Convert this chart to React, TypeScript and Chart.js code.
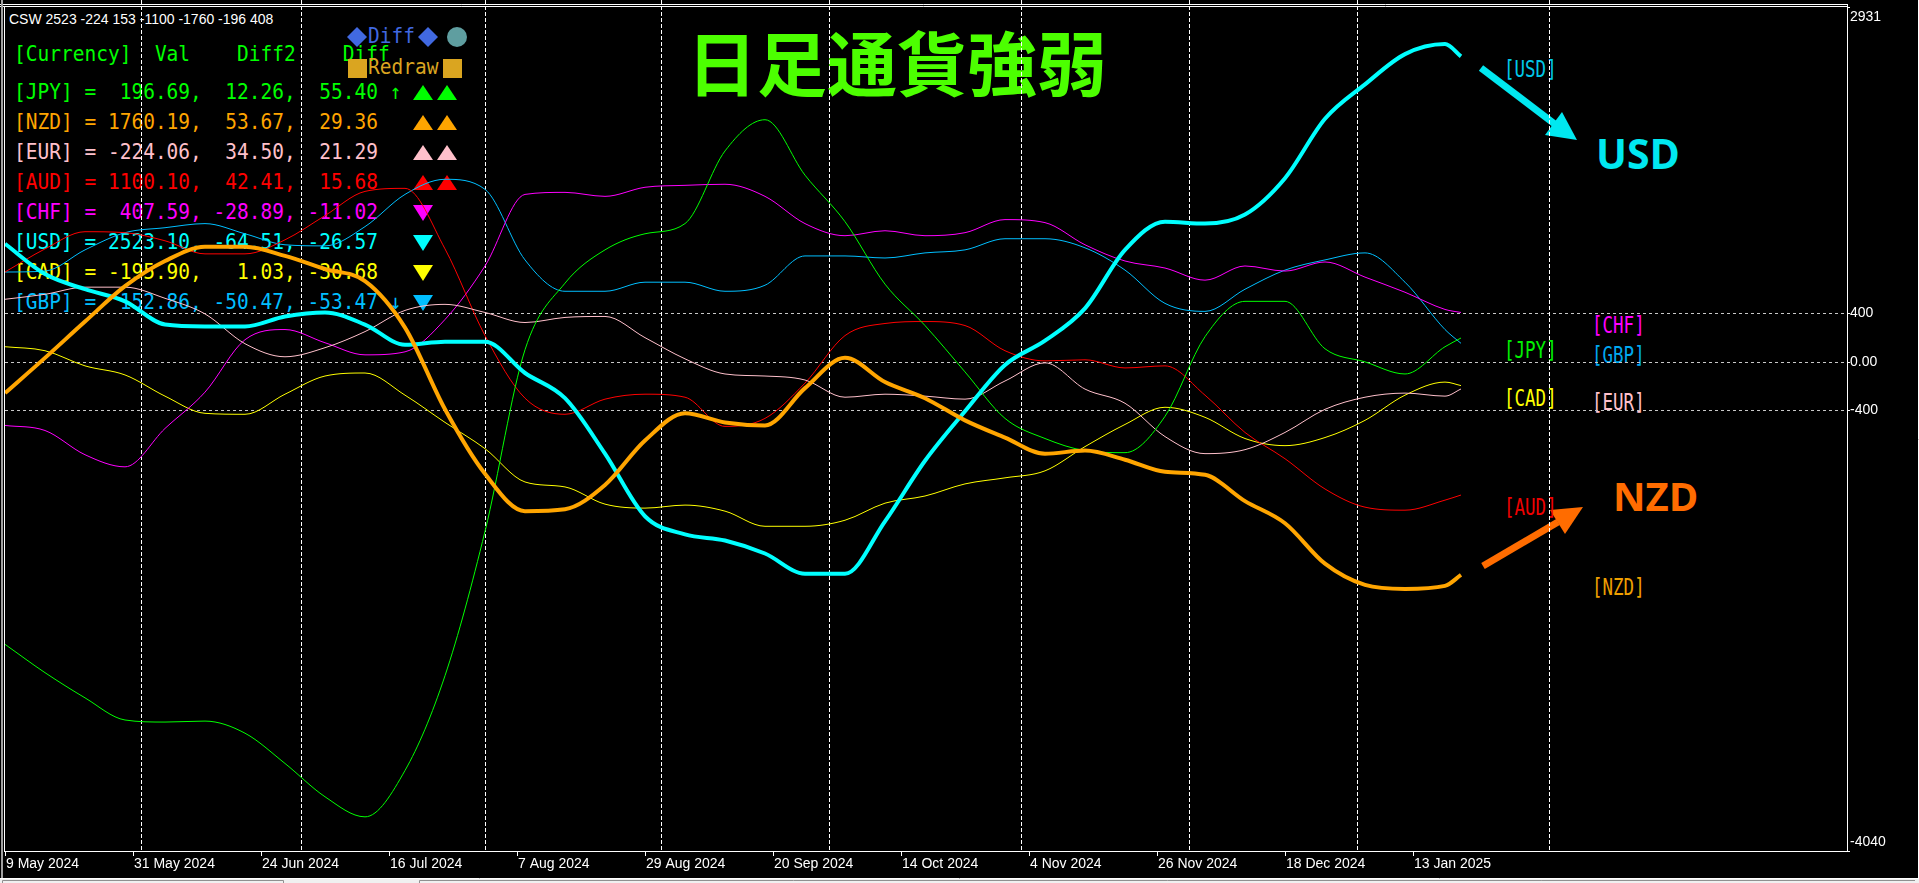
import React, { useEffect, useRef } from "react";
import { Chart, registerables } from "chart.js";
Chart.register(...registerables);

// ---- data ----
const barIdx = [0, 5, 10, 15, 20, 25, 30, 35, 40, 45, 50, 55, 60, 65, 70, 75, 80, 85, 90, 95, 100, 105, 110, 115, 120, 125, 130, 135, 140, 145, 150, 155, 160, 165, 170, 175, 180, 182];

const jpy = [-2333, -2567, -2775, -2958, -2975, -2967, -3067, -3317, -3592, -3758, -3375, -2592, -1400, 100, 650, 925, 1058, 1142, 1742, 2000, 1542, 1158, 642, 300, -83, -467, -633, -733, -750, -450, 208, 500, 500, 108, 0, -100, 125, 197];
const nzd = [-258, 33, 333, 625, 833, 950, 950, 875, 767, 667, 283, -392, -925, -1233, -1217, -1017, -650, -425, -500, -525, -217, 33, -167, -300, -483, -625, -758, -733, -808, -908, -933, -1150, -1333, -1667, -1842, -1875, -1850, -1760];
const eur = [517, 558, 617, 617, 525, 396, 150, 42, 117, 250, 425, 475, 408, 325, 367, 375, 200, 25, -100, -117, -150, -292, -267, -283, -308, -158, -8, -225, -342, -617, -758, -725, -583, -392, -292, -258, -283, -224];
const aud = [742, 933, 1075, 1067, 1000, 892, 892, 1008, 1208, 1408, 1433, 933, 217, -300, -433, -308, -267, -292, -533, -467, -175, 217, 317, 333, 300, 92, 8, 17, -50, -33, -275, -583, -800, -1050, -1200, -1225, -1142, -1100];
const chf = [-525, -567, -767, -867, -550, -250, 183, 267, 158, 58, 83, 350, 792, 1383, 1400, 1367, 1442, 1458, 1467, 1367, 1142, 1042, 1083, 1042, 1067, 1175, 1150, 967, 833, 775, 675, 792, 750, 825, 700, 575, 433, 408];
const usd = [975, 725, 600, 500, 308, 292, 292, 375, 408, 308, 142, 167, 167, -92, -300, -758, -1275, -1425, -1475, -1583, -1750, -1750, -1317, -817, -408, -25, 175, 442, 925, 1158, 1142, 1217, 1517, 2008, 2292, 2542, 2625, 2523];
const cad = [125, 92, -33, -108, -283, -425, -433, -267, -117, -92, -275, -500, -717, -992, -1033, -1175, -1208, -1183, -1233, -1358, -1358, -1308, -1167, -1108, -1008, -958, -900, -700, -517, -375, -458, -633, -692, -625, -483, -275, -167, -196];
const gbp = [742, 750, 925, 1067, 1108, 1142, 1058, 967, 958, 1117, 1383, 1508, 1425, 842, 583, 583, 658, 658, 583, 633, 875, 875, 858, 900, 925, 1017, 1017, 942, 758, 483, 417, 600, 758, 842, 900, 658, 267, 153];

const currencies = ["JPY", "NZD", "EUR", "AUD", "CHF", "USD", "CAD", "GBP"];
const seriesValues = [jpy, nzd, eur, aud, chf, usd, cad, gbp];
const lineColors = ["#00FF00", "#FFA500", "#FFC0CB", "#FF0000", "#FF00FF", "#00FFFF", "#FFFF00", "#00BFFF"];
const lineWidths = [1, 4, 1, 1, 1, 4, 1, 1];

const legendVal = ["196.69", "1760.19", "-224.06", "1100.10", "407.59", "2523.10", "-195.90", "152.86"];
const legendDiff2 = ["12.26", "53.67", "34.50", "42.41", "-28.89", "-64.51", "1.03", "-50.47"];
const legendDiff = ["55.40", "29.36", "21.29", "15.68", "-11.02", "-26.57", "-30.68", "-53.47"];
const legendArrow = ["↑", "", "", "", "", "", "", "↓"];
const legendTriangles = [2, 2, 2, 2, -1, -1, -1, -1];

const cswText = "CSW 2523 -224 153 -1100 -1760 -196 408";

const dateLabels = ["9 May 2024", "31 May 2024", "24 Jun 2024", "16 Jul 2024", "7 Aug 2024", "29 Aug 2024", "20 Sep 2024", "14 Oct 2024", "4 Nov 2024", "26 Nov 2024", "18 Dec 2024", "13 Jan 2025"];
const dateLabelBars = [0, 16, 32, 48, 64, 80, 96, 112, 128, 144, 160, 176];
const monthStartBars = [17, 37, 60, 82, 103, 127, 148, 169, 193];
const yGridValues = [400, 0, -400];
const yMin = -4040;
const yMax = 2931;
const xMax = 230.25;

const endLabelCurrencies = ["USD", "CHF", "JPY", "GBP", "CAD", "EUR", "AUD", "NZD"];
const endLabelColors = ["#00C8E8", "#FF00FF", "#00F000", "#00A8F0", "#FFFF00", "#FFC0CB", "#F00000", "#F0A000"];

const W = 1919;
const H = 883;

const monoFont = '"DejaVu Sans Mono", "Liberation Mono", monospace';

const framePlugin = {
  id: "frame",
  beforeDatasetsDraw(chart: any) {
    const { ctx, chartArea: a, scales } = chart;
    const x = scales.x;
    const y = scales.y;
    ctx.save();
    ctx.lineWidth = 1;
    ctx.strokeStyle = "#C8C8C8";
    ctx.setLineDash([3, 3]);
    yGridValues.forEach((v) => {
      const py = Math.round(y.getPixelForValue(v)) + 0.5;
      ctx.beginPath();
      ctx.moveTo(a.left, py);
      ctx.lineTo(a.right, py);
      ctx.stroke();
    });
    ctx.strokeStyle = "#FFFFFF";
    ctx.setLineDash([4, 2]);
    monthStartBars.forEach((b) => {
      const px = Math.round(x.getPixelForValue(b)) + 0.5;
      ctx.beginPath();
      ctx.moveTo(px, 0);
      ctx.lineTo(px, a.bottom);
      ctx.stroke();
    });
    ctx.restore();
  },
  afterDraw(chart: any) {
    const { ctx, chartArea: a, scales } = chart;
    const x = scales.x;
    const y = scales.y;
    ctx.save();
    ctx.setLineDash([]);
    ctx.lineWidth = 1;
    ctx.strokeStyle = "#FFFFFF";
    const line = (x1: number, y1: number, x2: number, y2: number) => {
      ctx.beginPath();
      ctx.moveTo(x1, y1);
      ctx.lineTo(x2, y2);
      ctx.stroke();
    };
    // frame
    line(0, 4.5, a.right + 0.5, 4.5);
    line(0, 6.5, a.right + 0.5, 6.5);
    line(a.right + 0.5, 4, a.right + 0.5, a.bottom + 1);
    line(4, a.bottom + 0.5, a.right + 1, a.bottom + 0.5);
    line(4.5, 6, 4.5, a.bottom + 1);
    ctx.strokeStyle = "#A0A0A0";
    ctx.lineWidth = 2;
    line(2, 0, 2, 878);
    ctx.lineWidth = 1;
    ctx.strokeStyle = "#FFFFFF";
    line(W - 0.5, 0, W - 0.5, 878.5);
    line(0, 878.5, W, 878.5);
    // bottom tab strip
    ctx.fillStyle = "#F0F0F0";
    ctx.fillRect(0, 879, W, 4);
    ctx.strokeStyle = "#909090";
    line(2.5, 880.5, 283.5, 880.5);
    line(2.5, 880.5, 2.5, 883);
    line(283.5, 880.5, 283.5, 883);
    line(419.5, 880.5, W - 4, 880.5);
    line(419.5, 880.5, 419.5, 883);
    // x ticks and labels
    ctx.strokeStyle = "#FFFFFF";
    ctx.fillStyle = "#FFFFFF";
    ctx.font = '14px "Liberation Sans", Arial, sans-serif';
    ctx.textBaseline = "middle";
    ctx.textAlign = "left";
    dateLabelBars.forEach((b, i) => {
      const px = Math.round(x.getPixelForValue(b)) + 0.5;
      line(px, a.bottom + 1, px, a.bottom + 5);
      ctx.fillText(dateLabels[i], px + 0.5, a.bottom + 13);
    });
    // y labels
    const yTickVals = [yMax, 400, 0, -400, yMin];
    yTickVals.forEach((v) => {
      let py = y.getPixelForValue(v);
      if (v === yMax) py += 10;
      if (v === yMin) py -= 9;
      const txt = v === 0 ? "0.00" : String(v);
      ctx.fillText(txt, a.right + 3, py);
      const gy = Math.round(y.getPixelForValue(v)) + 0.5;
      line(a.right + 1, gy, a.right + 3, gy);
    });
    ctx.restore();
  },
};

function pad(s: string, n: number) {
  return s.padStart(n, " ");
}

export default function App() {
  const canvasRef = useRef<HTMLCanvasElement | null>(null);

  useEffect(() => {
    document.body.style.margin = "0";
    document.body.style.background = "#000";
    const canvas = canvasRef.current;
    if (!canvas) return;
    const datasets = currencies.map((c, k) => ({
      label: c,
      data: barIdx.map((b, i) => ({ x: b, y: seriesValues[k][i] })),
      borderColor: lineColors[k],
      backgroundColor: lineColors[k],
      borderWidth: lineWidths[k],
      pointRadius: 0,
      fill: false,
      cubicInterpolationMode: "monotone" as const,
      order: lineWidths[k] > 1 ? 0 : 1,
    }));
    const chart = new Chart(canvas, {
      type: "line",
      data: { datasets },
      options: {
        animation: false,
        responsive: false,
        devicePixelRatio: 1,
        layout: { padding: { left: 5, top: 7, right: 0, bottom: 0 } },
        plugins: { legend: { display: false }, tooltip: { enabled: false } },
        scales: {
          x: {
            type: "linear",
            min: 0,
            max: xMax,
            grid: { display: false },
            border: { display: false },
            ticks: { display: false },
            afterFit: (s: any) => {
              s.height = 32;
            },
          },
          y: {
            type: "linear",
            position: "right",
            min: yMin,
            max: yMax,
            grid: { display: false },
            border: { display: false },
            ticks: { display: false },
            afterFit: (s: any) => {
              s.width = 72;
            },
          },
        },
      } as any,
      plugins: [framePlugin],
    });
    return () => chart.destroy();
  }, []);

  const rowCenters = [93, 123, 153, 183, 213, 243, 273, 303];
  const headerCenter = 55;

  const legendRows = currencies.map(
    (c, i) =>
      `[${c}] = ${pad(legendVal[i], 7)}, ${pad(legendDiff2[i], 6)}, ${pad(legendDiff[i], 6)}${legendArrow[i] ? " " + legendArrow[i] : ""}`
  );

  const endLabelPos: { [k: string]: [number, number] } = {
    USD: [1504, 69],
    CHF: [1592, 325],
    JPY: [1504, 350],
    GBP: [1592, 355],
    CAD: [1504, 398],
    EUR: [1592, 402],
    AUD: [1504, 507],
    NZD: [1592, 587],
  };

  const triPath = (x0: number, yc: number, up: boolean) => {
    if (up) return `${x0},${yc + 7} ${x0 + 20},${yc + 7} ${x0 + 10},${yc - 8}`;
    return `${x0},${yc - 8} ${x0 + 20},${yc - 8} ${x0 + 10},${yc + 8}`;
  };

  const legendTextStyle = (top: number, color: string): React.CSSProperties => ({
    position: "absolute",
    left: 14,
    top,
    font: `19.5px ${monoFont}`,
    lineHeight: "30px",
    color,
    whiteSpace: "pre",
    transform: "scaleY(1.08)",
    transformOrigin: "left center",
  });

  return (
    <div style={{ position: "fixed", left: 0, top: 0, width: W, height: H, background: "#000", overflow: "hidden" }}>
      <div
        style={{
          position: "absolute",
          left: 9,
          top: 10,
          font: '14px "Liberation Sans", Arial, sans-serif',
          color: "#FFFFFF",
          lineHeight: "18px",
          whiteSpace: "pre",
        }}
      >
        {cswText}
      </div>
      <div style={legendTextStyle(headerCenter - 15, "#00FF00")}>{"[Currency]  Val    Diff2    Diff"}</div>
      {legendRows.map((r, i) => (
        <div key={currencies[i]} style={legendTextStyle(rowCenters[i] - 15, lineColors[i])}>
          {r}
        </div>
      ))}
      <svg width={W} height={H} style={{ position: "absolute", left: 0, top: 0 }}>
        {legendTriangles.map((t, i) => {
          const yc = rowCenters[i];
          if (t > 0)
            return (
              <g key={i}>
                <polygon points={triPath(413, yc, true)} fill={lineColors[i]} />
                <polygon points={triPath(437, yc, true)} fill={lineColors[i]} />
              </g>
            );
          return <polygon key={i} points={triPath(413, yc, false)} fill={lineColors[i]} />;
        })}
        <polygon points="347,37 357,27 367,37 357,47" fill="#4169E1" />
        <polygon points="418,37 428,27 438,37 428,47" fill="#4169E1" />
        <circle cx={457} cy={37} r={10} fill="#5F9EA0" />
        <rect x={348} y={59} width={19} height={19} fill="#DAA520" />
        <rect x={443} y={59} width={19} height={19} fill="#DAA520" />
        <line x1={1481} y1={68} x2={1556} y2={125} stroke="#00E8F0" strokeWidth={7} />
        <polygon points="1577,140 1545,135 1562,112" fill="#00E8F0" />
        <line x1={1483} y1={566} x2={1558} y2={522} stroke="#FF6C00" strokeWidth={7} />
        <polygon points="1583,507 1550,510 1565,534" fill="#FF6C00" />
      </svg>
      <div style={{ ...legendTextStyle(37 - 15, "#4169E1"), left: 368 }}>Diff</div>
      <div style={{ ...legendTextStyle(68 - 15, "#DAA520"), left: 368 }}>Redraw</div>
      <div
        style={{
          position: "absolute",
          left: 687,
          top: 26,
          fontFamily: '"Noto Sans CJK JP", sans-serif',
          fontWeight: 700,
          fontSize: 70,
          lineHeight: "70px",
          color: "#4CFF00",
          whiteSpace: "pre",
        }}
      >
        日足通貨強弱
      </div>
      <div
        style={{
          position: "absolute",
          left: 1596,
          top: 133,
          fontFamily: '"Open Sans", sans-serif',
          fontWeight: 700,
          fontSize: 41,
          lineHeight: "41px",
          color: "#00E8F0",
        }}
      >
        USD
      </div>
      <div
        style={{
          position: "absolute",
          left: 1613,
          top: 476,
          fontFamily: '"Open Sans", sans-serif',
          fontWeight: 700,
          fontSize: 40,
          lineHeight: "40px",
          color: "#FF6C00",
        }}
      >
        NZD
      </div>
      {endLabelCurrencies.map((c, i) => (
        <div
          key={"end" + c}
          style={{
            position: "absolute",
            left: endLabelPos[c][0],
            top: endLabelPos[c][1] - 12,
            font: `17.5px ${monoFont}`,
            lineHeight: "24px",
            color: endLabelColors[i],
            whiteSpace: "pre",
            transform: "scaleY(1.3)",
            transformOrigin: "left center",
          }}
        >
          {`[${c}]`}
        </div>
      ))}
      <canvas
        ref={canvasRef}
        width={W}
        height={H}
        style={{ position: "absolute", left: 0, top: 0, width: W, height: H }}
      />
    </div>
  );
}
